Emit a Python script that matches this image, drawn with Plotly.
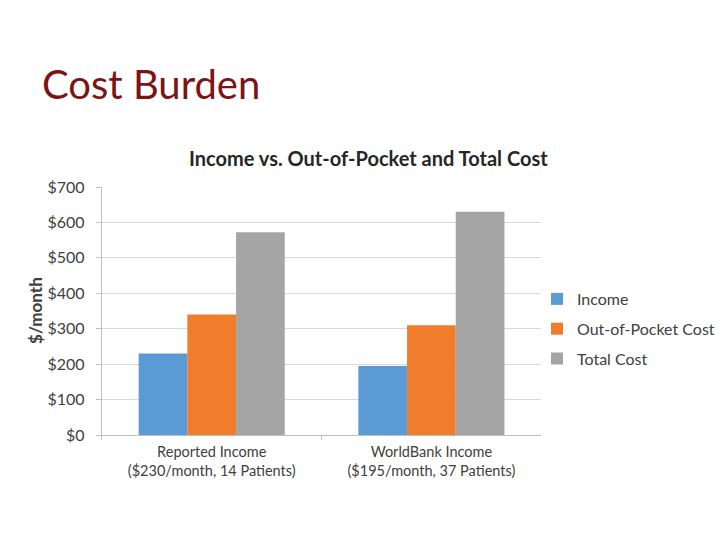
import plotly.graph_objects as go

categories = ["Reported Income<br>($230/month, 14 Patients)",
              "WorldBank Income<br>($195/month, 37 Patients)"]
series_names = ["Income", "Out-of-Pocket Cost", "Total Cost"]
income = [230, 195]
out_of_pocket = [340, 310]
total_cost = [572, 630]
y_ticks = [0, 100, 200, 300, 400, 500, 600, 700]
y_tick_labels = ["$" + str(v) for v in y_ticks]

colors = ["#5B9BD5", "#F07D2C", "#A5A5A5"]
font = "Lato, 'Open Sans', sans-serif"

W, H = 720, 540

fig = go.Figure()
for name, vals, col in zip(series_names, [income, out_of_pocket, total_cost], colors):
    fig.add_trace(go.Bar(x=categories, y=vals, name=name, legendgroup=name,
                         marker=dict(color=col, line=dict(width=0))))

fig.update_layout(
    width=W, height=H,
    paper_bgcolor="white", plot_bgcolor="white",
    barmode="group", bargap=0.335, bargroupgap=0,
    margin=dict(l=0, r=0, t=0, b=0),
    font=dict(family=font, color="#404040"),
    showlegend=True,
    legend=dict(x=538 / W, y=1 - 329 / H, xanchor="left", yanchor="middle",
                font=dict(size=16, color="#404040"), tracegroupgap=6,
                itemwidth=30, bgcolor="rgba(0,0,0,0)"),
)
fig.update_xaxes(domain=[102 / W, 542 / W], automargin=False,
                 showline=True, linecolor="#BFBFBF", linewidth=1,
                 ticks="outside", tickson="boundaries", ticklen=4,
                 tickcolor="#BFBFBF", tickfont=dict(size=14.5, color="#404040"),
                 ticklabelstandoff=4, showgrid=False)
fig.update_yaxes(domain=[1 - 435 / H, 1 - 187 / H], automargin=False,
                 range=[0, 700], tickvals=y_ticks, ticktext=y_tick_labels,
                 showline=True, linecolor="#BFBFBF", linewidth=1,
                 ticks="outside", ticklen=5, tickcolor="#BFBFBF",
                 gridcolor="#D9D9D9", gridwidth=1, zeroline=False,
                 ticklabelstandoff=8,
                 tickfont=dict(size=16, color="#404040"))

# y axis title
fig.add_annotation(text="<b>$/month</b>", xref="paper", yref="paper",
                   x=35 / W, y=1 - 310 / H, textangle=-90,
                   xanchor="center", yanchor="middle",
                   showarrow=False, font=dict(size=17, color="#404040"))
# slide title
fig.add_annotation(text="Cost Burden", xref="paper", yref="paper",
                   x=40 / W, y=1 - 84 / H, xanchor="left", yanchor="middle",
                   showarrow=False,
                   font=dict(family=font, size=40, color="#7B1414"))
# chart title
fig.add_annotation(text="<b>Income vs. Out-of-Pocket and Total Cost</b>", xref="paper", yref="paper",
                   x=369 / W, y=1 - 158 / H, xanchor="center", yanchor="middle",
                   showarrow=False, font=dict(size=20, color="#262626"))

fig.write_html("out.html", config={"displayModeBar": False},
               post_script="document.body.style.margin='0';")
